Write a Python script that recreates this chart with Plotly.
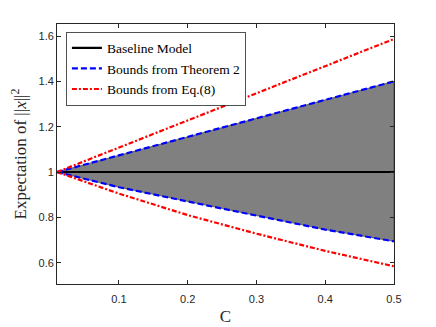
import plotly.graph_objects as go

# valores
C = [0.01, 0.1, 0.2, 0.3, 0.4, 0.5]
BASE = [1.0, 1.0, 1.0, 1.0, 1.0, 1.0]
TEO2_SUP = [1.0, 1.073, 1.155, 1.237, 1.318, 1.40]
TEO2_INF = [1.0, 0.933, 0.870, 0.808, 0.746, 0.694]
EQ8_SUP = [1.0, 1.108, 1.228, 1.348, 1.468, 1.587]
EQ8_INF = [1.0, 0.905, 0.810, 0.728, 0.652, 0.584]

EIXO = "#262626"
SERIF = "Liberation Serif"
SANS = "Liberation Sans"

fig = go.Figure()

# faixa cinza entre os limites do Teorema 2
fig.add_scatter(x=C + C[::-1], y=TEO2_SUP + TEO2_INF[::-1], fill="toself",
                fillcolor="#808080", mode="lines",
                line=dict(color="#333333", width=0.6),
                showlegend=False, hoverinfo="skip")

fig.add_scatter(x=C, y=BASE, mode="lines", name="Baseline Model",
                line=dict(color="black", width=2.2))
fig.add_scatter(x=C, y=TEO2_SUP, mode="lines", name="Bounds from Theorem 2",
                line=dict(color="#0000ff", width=2.2, dash="6px,3px"))
fig.add_scatter(x=C, y=TEO2_INF, mode="lines", showlegend=False,
                line=dict(color="#0000ff", width=2.2, dash="6px,3px"))
fig.add_scatter(x=C, y=EQ8_SUP, mode="lines", name="Bounds from Eq.(8)",
                line=dict(color="#ff0000", width=2.2, dash="5px,2px,2px,2px"))
fig.add_scatter(x=C, y=EQ8_INF, mode="lines", showlegend=False,
                line=dict(color="#ff0000", width=2.2, dash="5px,2px,2px,2px"))

_EIXO = dict(showline=True, linecolor=EIXO, linewidth=0.8, mirror="ticks",
             ticks="inside", ticklen=4, tickcolor=EIXO, showgrid=False,
             zeroline=False, automargin=False,
             tickfont=dict(family=SANS, size=11, color=EIXO))

fig.update_xaxes(**_EIXO, range=[0.01, 0.5], ticklabelstandoff=5,
                 tickvals=[0.1, 0.2, 0.3, 0.4, 0.5],
                 title=dict(text="C", font=dict(family=SERIF, size=17, color=EIXO),
                            standoff=6))
fig.update_yaxes(**_EIXO, range=[0.506, 1.653],
                 tickvals=[0.6, 0.8, 1.0, 1.2, 1.4, 1.6],
                 title=dict(text="Expectation of ||<i>x</i>||<sup>2</sup>",
                            font=dict(family=SERIF, size=17, color=EIXO),
                            standoff=8))

# a página tem 8px de margem no body: a figura é um pouco menor que a janela
fig.update_layout(width=428, height=319, paper_bgcolor="white",
                  plot_bgcolor="white",
                  margin=dict(l=49, r=42, t=16, b=43, autoexpand=False),
                  legend=dict(x=0.027, y=0.97, xanchor="left", yanchor="top",
                              bgcolor="white", bordercolor=EIXO, borderwidth=0.8,
                              font=dict(family=SERIF, size=13.5, color="black"),
                              tracegroupgap=0, itemwidth=30))

fig.write_html("out.html")
